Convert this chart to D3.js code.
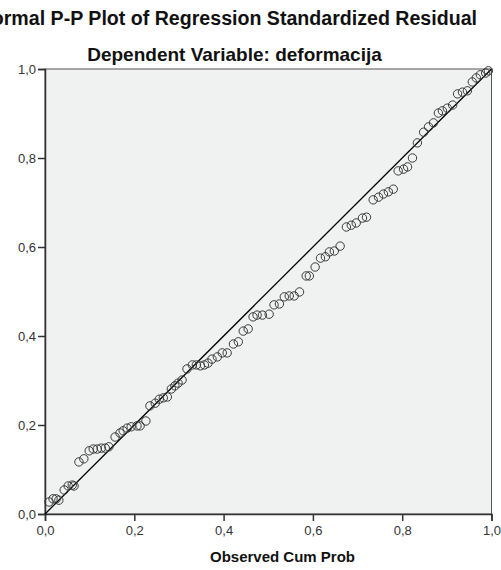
<!DOCTYPE html>
<html>
<head>
<meta charset="utf-8">
<script src="https://cdn.jsdelivr.net/npm/d3@7"></script>
<style>
  body { margin: 0; background: #fff; overflow: hidden; }
  svg text { font-family: "Liberation Sans", Arial, sans-serif; }
</style>
</head>
<body>
<div id="chart"></div>
<script>
var titleLines = ["Normal P-P Plot of Regression Standardized Residual", "Dependent Variable: deformacija"];
var xTitle = "Observed Cum Prob";
var tickValues = [0, 0.2, 0.4, 0.6, 0.8, 1.0];

// observed cum prob
var observed = [0.009, 0.018, 0.025, 0.031, 0.043, 0.052, 0.061, 0.065, 0.076, 0.087,
  0.099, 0.108, 0.117, 0.126, 0.135, 0.143, 0.157, 0.168, 0.175, 0.184,
  0.193, 0.206, 0.213, 0.226, 0.235, 0.247, 0.256, 0.265, 0.274, 0.283,
  0.291, 0.298, 0.307, 0.318, 0.330, 0.339, 0.348, 0.357, 0.365, 0.374,
  0.386, 0.397, 0.408, 0.422, 0.433, 0.444, 0.455, 0.466, 0.475, 0.487,
  0.502, 0.513, 0.525, 0.536, 0.547, 0.558, 0.570, 0.585, 0.592, 0.605,
  0.617, 0.628, 0.637, 0.648, 0.661, 0.675, 0.686, 0.697, 0.711, 0.720,
  0.735, 0.747, 0.758, 0.769, 0.780, 0.791, 0.803, 0.812, 0.823, 0.834,
  0.848, 0.859, 0.870, 0.881, 0.890, 0.901, 0.913, 0.924, 0.935, 0.946,
  0.957, 0.966, 0.975, 0.987, 0.993];

// expected cum prob
var expected = [0.027, 0.034, 0.034, 0.031, 0.054, 0.063, 0.065, 0.063, 0.117, 0.124,
  0.142, 0.146, 0.146, 0.148, 0.148, 0.151, 0.173, 0.182, 0.187, 0.193,
  0.196, 0.198, 0.198, 0.209, 0.243, 0.249, 0.258, 0.261, 0.263, 0.281,
  0.288, 0.294, 0.301, 0.326, 0.335, 0.335, 0.333, 0.335, 0.339, 0.348,
  0.353, 0.362, 0.362, 0.382, 0.387, 0.411, 0.416, 0.443, 0.447, 0.447,
  0.449, 0.470, 0.472, 0.488, 0.490, 0.490, 0.499, 0.535, 0.535, 0.555,
  0.575, 0.578, 0.589, 0.591, 0.602, 0.645, 0.649, 0.654, 0.665, 0.667,
  0.706, 0.712, 0.719, 0.724, 0.730, 0.771, 0.775, 0.780, 0.800, 0.834,
  0.858, 0.870, 0.879, 0.901, 0.906, 0.912, 0.919, 0.944, 0.948, 0.951,
  0.971, 0.980, 0.987, 0.991, 0.996];

var width = 501, height = 570;
var plotLeft = 45, plotRight = 491.5, plotTop = 69, plotBottom = 514;

var svg = d3.select("#chart").append("svg")
    .attr("width", width)
    .attr("height", height);

var x = d3.scaleLinear().domain([0, 1]).range([plotLeft, plotRight]);
var y = d3.scaleLinear().domain([0, 1]).range([plotBottom, plotTop]);
var fmt = function(d) { return d3.format(".1f")(d).replace(".", ","); };

// plot background + frame
svg.append("rect")
    .attr("x", plotLeft).attr("y", plotTop)
    .attr("width", plotRight - plotLeft).attr("height", plotBottom - plotTop)
    .style("fill", "#f0f1f1")
    .style("stroke", "#555")
    .style("stroke-width", 1);

// titles (first line runs off the left edge, as in the original)
svg.append("text")
    .attr("x", 477)
    .attr("y", 25)
    .attr("text-anchor", "end")
    .style("font-size", "19.6px")
    .style("font-weight", "bold")
    .style("fill", "#111")
    .text(titleLines[0]);

svg.append("text")
    .attr("x", 234.5)
    .attr("y", 61)
    .attr("text-anchor", "middle")
    .style("font-size", "19px")
    .style("font-weight", "bold")
    .style("fill", "#111")
    .text(titleLines[1]);

// axes
var xAxis = svg.append("g")
    .attr("transform", "translate(0," + plotBottom + ")")
    .call(d3.axisBottom(x).tickValues(tickValues).tickFormat(fmt).tickSizeOuter(0).tickSize(7).tickPadding(5));
var yAxis = svg.append("g")
    .attr("transform", "translate(" + plotLeft + ",0)")
    .call(d3.axisLeft(y).tickValues(tickValues).tickFormat(fmt).tickSizeOuter(0).tickSize(7).tickPadding(2));

[xAxis, yAxis].forEach(function(g) {
  g.select(".domain").style("stroke", "#333").style("stroke-width", 1.5);
  g.selectAll(".tick line").style("stroke", "#333").style("stroke-width", 1.5);
  g.selectAll(".tick text")
      .style("font-family", "'Liberation Sans', Arial, sans-serif")
      .style("font-size", "13px")
      .style("fill", "#333");
});

// reference diagonal
svg.append("line")
    .attr("x1", x(0)).attr("y1", y(0))
    .attr("x2", x(1)).attr("y2", y(1))
    .style("stroke", "#000")
    .style("stroke-width", 1.3);

// points
svg.selectAll("circle.pt")
    .data(observed.map(function(d, i) { return { o: d, e: expected[i] }; }))
    .enter()
    .append("circle")
    .attr("class", "pt")
    .attr("cx", function(d) { return x(d.o); })
    .attr("cy", function(d) { return y(d.e); })
    .attr("r", 4.2)
    .style("fill", "none")
    .style("stroke", "#3a3a3a")
    .style("stroke-width", 1);

// x axis title
svg.append("text")
    .attr("x", 282.5)
    .attr("y", 562)
    .attr("text-anchor", "middle")
    .style("font-size", "15px")
    .style("font-weight", "bold")
    .style("fill", "#111")
    .text(xTitle);
</script>
</body>
</html>
